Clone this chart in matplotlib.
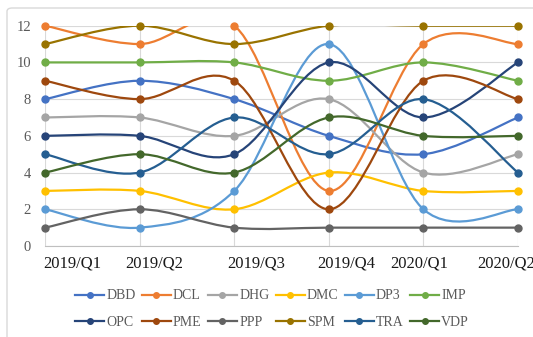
import matplotlib
matplotlib.use("Agg")
import matplotlib.pyplot as plt
from matplotlib.path import Path
from matplotlib.patches import PathPatch, FancyBboxPatch
from matplotlib.lines import Line2D
import matplotlib.transforms as mtransforms

categories = ["2019/Q1", "2019/Q2", "2019/Q3", "2019/Q4", "2020/Q1", "2020/Q2"]
names = ["DBD", "DCL", "DHG", "DMC", "DP3", "IMP", "OPC", "PME", "PPP", "SPM", "TRA", "VDP"]
DBD = [8, 9, 8, 6, 5, 7]
DCL = [12, 11, 12, 3, 11, 11]
DHG = [7, 7, 6, 8, 4, 5]
DMC = [3, 3, 2, 4, 3, 3]
DP3 = [2, 1, 3, 11, 2, 2]
IMP = [10, 10, 10, 9, 10, 9]
OPC = [6, 6, 5, 10, 7, 10]
PME = [9, 8, 9, 2, 9, 8]
PPP = [1, 2, 1, 1, 1, 1]
SPM = [11, 12, 11, 12, 12, 12]
TRA = [5, 4, 7, 5, 8, 4]
VDP = [4, 5, 4, 7, 6, 6]
series = [DBD, DCL, DHG, DMC, DP3, IMP, OPC, PME, PPP, SPM, TRA, VDP]
colors = ["#4472C4", "#ED7D31", "#A5A5A5", "#FFC000", "#5B9BD5", "#70AD47",
          "#264478", "#9E480E", "#636363", "#997300", "#255E91", "#43682B"]

SERIF = ["Liberation Serif", "DejaVu Serif"]

fig = plt.figure(figsize=(5.33, 3.37), dpi=100)
W, H = 533, 337
ax = fig.add_axes([45 / W, 1 - 246 / H, (518 - 45) / W, (246 - 25.7) / H])

# outer chart border
fig.patches.append(FancyBboxPatch((7 / W, -0.1), 1.2, 1 - 8 / H + 0.1,
                                  boxstyle="round,pad=0,rounding_size=0.01",
                                  transform=fig.transFigure, fill=False,
                                  edgecolor="#D9D9D9", linewidth=1.0, zorder=0))

xs = list(range(len(categories)))


def smooth_path(x, y):
    n = len(x)
    verts = [(x[0], y[0])]
    codes = [Path.MOVETO]
    for i in range(n - 1):
        xm, ym = (x[i - 1], y[i - 1]) if i > 0 else (x[i], y[i])
        xp, yp = (x[i + 2], y[i + 2]) if i + 2 < n else (x[i + 1], y[i + 1])
        c1 = (x[i] + (x[i + 1] - xm) / 6, y[i] + (y[i + 1] - ym) / 6)
        c2 = (x[i + 1] - (xp - x[i]) / 6, y[i + 1] - (yp - y[i]) / 6)
        verts += [c1, c2, (x[i + 1], y[i + 1])]
        codes += [Path.CURVE4] * 3
    return Path(verts, codes)


handles = []
for name, vals, c in zip(names, series, colors):
    patch = PathPatch(smooth_path(xs, vals), fill=False, edgecolor=c,
                      linewidth=1.6, zorder=3, capstyle="round")
    ax.add_patch(patch)
    ax.plot(xs, vals, "o", color=c, markersize=5, clip_on=False, zorder=4)
    handles.append(Line2D([0], [0], color=c, lw=1.6, marker="o", markersize=4))

ax.set_xlim(0, len(categories) - 1)
ax.set_ylim(0, 12)
ax.set_yticks(range(0, 13, 2))
ax.set_xticks(xs)
ax.set_xticklabels(categories)
ax.grid(True, color="#D9D9D9", linewidth=0.8, zorder=0)
ax.set_axisbelow(True)
for s in ["top", "right", "left"]:
    ax.spines[s].set_visible(False)
ax.spines["bottom"].set_color("#BFBFBF")
ax.tick_params(axis="both", length=0)
ax.tick_params(axis="y", pad=10, labelcolor="#595959", labelsize=10.5)
ax.tick_params(axis="x", pad=7, labelcolor="#1a1a1a", labelsize=12)
for lab in ax.get_yticklabels():
    lab.set_fontfamily(SERIF)
offsets_px = [27, 15, 22, 17, -4, -12]
for lab, dx in zip(ax.get_xticklabels(), offsets_px):
    lab.set_fontfamily(SERIF)
    lab.set_transform(lab.get_transform() +
                      mtransforms.ScaledTranslation(dx / 100, 0, fig.dpi_scale_trans))

# legend in row-major order (two rows of six)
order = []
for col in range(6):
    order += [col, col + 6]
leg = fig.legend([handles[i] for i in order], [names[i] for i in order],
                 loc="center", bbox_to_anchor=(272 / W, 1 - 309 / H), ncol=6,
                 frameon=False, prop={"family": SERIF, "size": 10},
                 handlelength=2.1, handletextpad=0.15, columnspacing=0.45,
                 labelspacing=0.95, labelcolor="#595959")

fig.savefig("out.png", dpi=100)
